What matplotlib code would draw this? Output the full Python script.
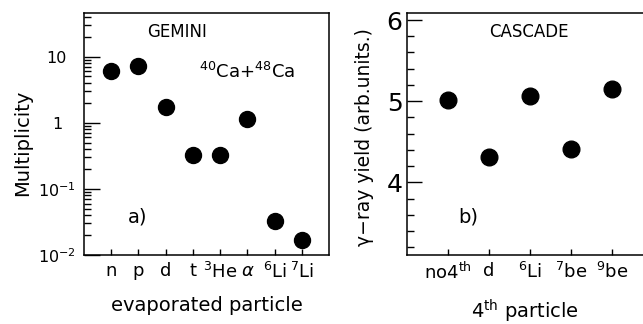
import numpy as np
import matplotlib
matplotlib.use("Agg")
import matplotlib.pyplot as plt
from matplotlib.ticker import MultipleLocator, LogLocator, NullFormatter

plt.rcParams['font.family'] = ['DejaVu Sans']
plt.rcParams['mathtext.fontset'] = 'dejavusans'

# --- data ---------------------------------------------------------------
evap_labels = ["n", "p", "d", "t", "$^{3}$He", "$\\alpha$", "$^{6}$Li", "$^{7}$Li"]
evap_mult = [6.1, 7.1, 1.73, 0.32, 0.32, 1.15, 0.033, 0.017]

fourth_labels = ["no4$^{\\mathrm{th}}$", "d", "$^{6}$Li", "$^{7}$be", "$^{9}$be"]
gamma_yield = [5.02, 4.31, 5.06, 4.41, 5.15]

W, H = 643, 324
fig = plt.figure(figsize=(W/100, H/100), dpi=100)

# --- a) GEMINI ------------------------------------------------------------
ax1 = fig.add_axes([84/W, (H-255)/H, 245/W, 242.3/H])
x1 = np.arange(1, len(evap_mult)+1)
ax1.plot(x1, evap_mult, 'o', color='black', ms=11.5, mec='black')
ax1.set_yscale('log')
ax1.set_xlim(0, len(evap_mult)+1)
ax1.set_ylim(0.01, 46)
ax1.set_xticks(x1)
ax1.set_xticklabels(evap_labels, fontsize=13)
ax1.set_yticks([0.01, 0.1, 1, 10])
ax1.set_yticklabels(["10$^{-2}$", "10$^{-1}$", "1", "10"], fontsize=11.5)
ax1.yaxis.set_minor_locator(LogLocator(base=10, subs=np.arange(2, 10)))
ax1.yaxis.set_minor_formatter(NullFormatter())
ax1.tick_params(axis='y', which='major', direction='in', length=11.3, width=1, pad=19.5)
ax1.tick_params(axis='y', which='minor', direction='in', length=5, width=1)
ax1.tick_params(axis='x', which='major', direction='in', length=4.3, width=1, pad=5)
for lab in ax1.get_yticklabels():
    lab.set_ha('center')
ax1.set_ylabel("Multiplicity", fontsize=14)
ax1.yaxis.set_label_coords(-0.212, 0.462)
ax1.set_xlabel("evaporated particle", fontsize=14)
ax1.xaxis.set_label_coords(0.5, -0.169)
ax1.text(0.38, 0.92, "GEMINI", transform=ax1.transAxes, ha='center', va='center', fontsize=12)
ax1.text(0.666, 0.755, "$^{40}$Ca+$^{48}$Ca", transform=ax1.transAxes, ha='center', va='center', fontsize=13)
ax1.text(0.22, 0.157, "a)", transform=ax1.transAxes, ha='center', va='center', fontsize=14)

# --- b) CASCADE -----------------------------------------------------------
ax2 = fig.add_axes([406.7/W, (H-255)/H, 246.6/W, 242.3/H])
x2 = np.arange(1, len(gamma_yield)+1)
ax2.plot(x2, gamma_yield, 'o', color='black', ms=12, mec='black')
ax2.set_xlim(0, len(gamma_yield)+1)
ax2.set_ylim(3.105, 6.09)
ax2.set_xticks(x2)
ax2.set_xticklabels(fourth_labels, fontsize=13)
ax2.set_yticks([4, 5, 6])
ax2.yaxis.set_minor_locator(MultipleLocator(0.2))
ax2.tick_params(axis='y', which='major', direction='in', length=11, width=1, labelsize=18, pad=3)
ax2.tick_params(axis='y', which='minor', direction='in', length=5, width=1)
ax2.tick_params(axis='x', which='major', direction='in', length=4.3, width=1, pad=5)
ax2.set_ylabel("\u03b3\u2212ray yield (arb.units.)", fontsize=13.5)
ax2.yaxis.set_label_coords(-0.133, 0.487)
ax2.set_xlabel("4$^{\\mathrm{th}}$ particle", fontsize=14)
ax2.xaxis.set_label_coords(0.48, -0.175)
ax2.text(0.496, 0.92, "CASCADE", transform=ax2.transAxes, ha='center', va='center', fontsize=12)
ax2.text(0.249, 0.157, "b)", transform=ax2.transAxes, ha='center', va='center', fontsize=14)

for ax in (ax1, ax2):
    for sp in ax.spines.values():
        sp.set_linewidth(1.1)

fig.savefig("out.png", dpi=100)
